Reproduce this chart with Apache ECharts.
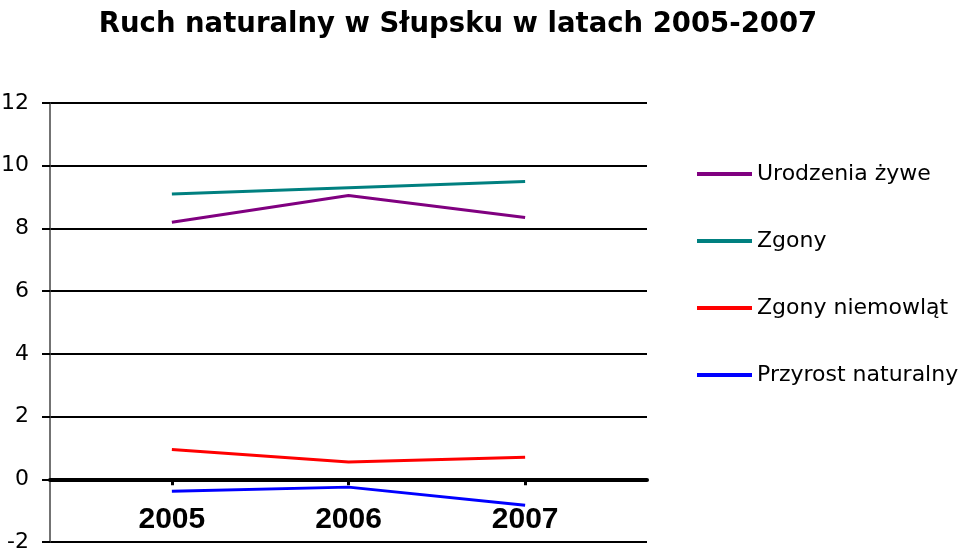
<!DOCTYPE html>
<html>
<head>
<meta charset="utf-8">
<script src="https://cdn.jsdelivr.net/npm/echarts@6/dist/echarts.min.js"></script>
<style>
  html, body { margin: 0; padding: 0; background: #fff; }
  #chart { width: 972px; height: 556px; }
</style>
</head>
<body>
<div id="chart"></div>
<script>
// lata i wartości
var years = [2005, 2006, 2007]
var urodzenia = [8.2, 9.05, 8.35]
var zgony = [9.1, 9.3, 9.5]
var zgonyNiemowlat = [0.95, 0.55, 0.7]
var przyrost = [-0.38, -0.25, -0.83]
var yTicks = [-2, 0, 2, 4, 6, 8, 10, 12]

var pairs = function (vals) {
  return years.map(function (y, i) { return [y, vals[i]] })
}

var chartDom = document.getElementById('chart')
var myChart = echarts.init(chartDom)

var mkLine = function (name, color, vals) {
  return {
    name: name,
    type: 'line',
    data: pairs(vals),
    symbol: 'none',
    color: color,
    lineStyle: { color: color, width: 3 },
    z: 5
  }
}

var option = {
  backgroundColor: '#fff',
  animation: false,
  title: {
    text: 'Ruch naturalny w Słupsku w latach 2005-2007',
    left: 453,
    textAlign: 'center',
    top: 6,
    textStyle: {
      fontFamily: 'DejaVu Sans',
      fontWeight: 'bold',
      fontSize: 27.5,
      color: '#000'
    }
  },
  legend: {
    orient: 'vertical',
    left: 692,
    top: 158,
    icon: 'rect',
    itemWidth: 55,
    itemHeight: 4,
    itemGap: 45,
    textStyle: {
      fontFamily: 'DejaVu Sans',
      fontSize: 22,
      color: '#000'
    },
    data: ['Urodzenia żywe', 'Zgony', 'Zgony niemowląt', 'Przyrost naturalny']
  },
  grid: {
    left: 50,
    right: 325,
    top: 103,
    bottom: 14,
    containLabel: false,
    outerBoundsMode: 'none'
  },
  xAxis: {
    type: 'value',
    min: 2004.31,
    max: 2007.69,
    splitLine: { show: false },
    axisLine: { onZero: true, lineStyle: { color: '#000', width: 4 } },
    axisTick: {
      show: true,
      customValues: years,
      inside: false,
      length: 6,
      lineStyle: { color: '#000', width: 3 }
    },
    axisLabel: {
      customValues: years,
      margin: -37,
      formatter: function (v) { return String(v) },
      fontFamily: 'Liberation Sans',
      fontWeight: 'bold',
      fontSize: 30,
      color: '#000'
    }
  },
  yAxis: {
    type: 'value',
    min: yTicks[0],
    max: yTicks[yTicks.length - 1],
    interval: 2,
    axisLine: { show: true, onZero: false, lineStyle: { color: '#444', width: 1.5 } },
    axisTick: { show: true, length: 8, lineStyle: { color: '#000', width: 2 } },
    splitLine: { show: true, lineStyle: { color: '#000', width: 2 } },
    axisLabel: {
      margin: 21,
      fontFamily: 'DejaVu Sans',
      fontSize: 22,
      color: '#000'
    }
  },
  series: [
    mkLine('Urodzenia żywe', '#800080', urodzenia),
    mkLine('Zgony', '#008080', zgony),
    mkLine('Zgony niemowląt', '#ff0000', zgonyNiemowlat),
    mkLine('Przyrost naturalny', '#0000ff', przyrost)
  ]
}

option && myChart.setOption(option)
</script>
</body>
</html>
